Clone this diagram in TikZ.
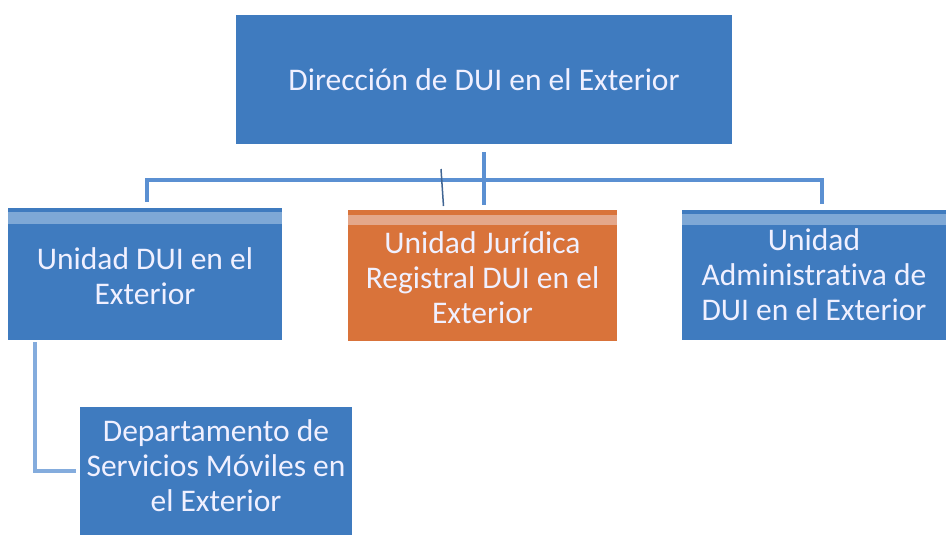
\documentclass[tikz,border=0pt]{standalone}
\usepackage{fontspec}
\setmainfont{Carlito}[Ligatures=NoCommon]
\usetikzlibrary{calc}
\definecolor{boxblue}{HTML}{3F7BBF}
\definecolor{boxorange}{HTML}{D9733A}
\definecolor{linkblue}{HTML}{5B90D2}
\definecolor{bandblue}{HTML}{A9C6E6}
\definecolor{bandorange}{HTML}{E9B9A6}
\tikzset{
  orgbox/.style={rectangle, fill=boxblue, text=white!94!blue, align=center,
    font=\fontsize{31.5}{35}\selectfont, inner sep=0pt},
  link/.style={draw=linkblue, line width=4pt},
}
\begin{document}
\begin{tikzpicture}[x=1pt,y=-1pt]
\useasboundingbox (0,0) rectangle (946,535);
\fill[white] (0,0) rectangle (946,535);
% boxes
\node[orgbox, minimum width=496pt, minimum height=129pt] (top) at (484,79.5) {Dirección de DUI en el Exterior};
\node[orgbox, minimum width=274pt, minimum height=132pt] (left) at (145,274) {};
\node[orgbox, fill=boxorange, minimum width=269pt, minimum height=131pt] (mid) at (482.5,275.5) {};
\node[orgbox, minimum width=264pt, minimum height=130pt] (right) at (814,275) {};
\node[orgbox, minimum width=272pt, minimum height=128pt] (dept) at (216,471) {};
% light top bands
\fill[bandblue, opacity=0.6] ([yshift=-4pt]left.north west) rectangle ([yshift=-16pt]left.north east);
\fill[bandorange, opacity=0.75] ([yshift=-5pt]mid.north west) rectangle ([yshift=-15pt]mid.north east);
\fill[bandblue, opacity=0.6] ([yshift=-4pt]right.north west) rectangle ([yshift=-15pt]right.north east);
% texts of boxes
\node[orgbox, fill=none] (lefttxt) at ([yshift=-2pt]left.center) {Unidad DUI en el\\Exterior};
\node[orgbox, fill=none] (midtxt) at ([yshift=-2pt]mid.center) {Unidad Jurídica\\Registral DUI en el\\Exterior};
\node[orgbox, fill=none] (righttxt) at ([yshift=0pt]right.center) {Unidad\\Administrativa de\\DUI en el Exterior};
\node[orgbox, fill=none] (depttxt) at ([yshift=5pt]dept.center) {Departamento de\\Servicios Móviles en\\el Exterior};
% connectors
\coordinate (barL) at (147,180);
\coordinate (barR) at (822,180);
\draw[link] (barL) -- (barR);
\draw[link] (147,178) -- (147,202);
\draw[link] (822,178) -- (822,204);
\draw[link] ($(top.south)+(0,8)$) -- ($(mid.north)+(1.5,-5)$);
\draw[draw=linkblue!70!black, line width=1.5pt] (441,169) -- (443.5,206);
\draw[link, draw=linkblue!75!white] (35,342) |- ([xshift=-4pt]dept.west);
\end{tikzpicture}
\end{document}
